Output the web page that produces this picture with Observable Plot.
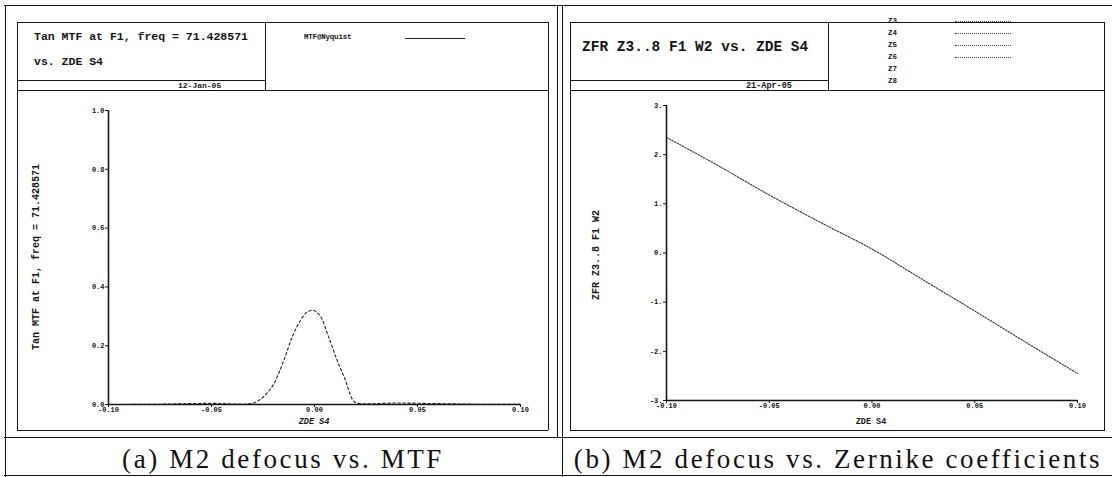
<!DOCTYPE html>
<html><head><meta charset="utf-8">
<script src="https://cdn.jsdelivr.net/npm/d3@7"></script>
<script src="https://cdn.jsdelivr.net/npm/@observablehq/plot@0.6"></script>
<style>
body{margin:0;background:#fff;}
#root{position:relative;width:1112px;height:477px;overflow:hidden;font-family:"Liberation Mono","DejaVu Sans Mono",monospace;font-weight:bold;color:#151515;background:#fff;}
.hl{position:absolute;height:0;border-top:1.6px solid #151515;}
.vl{position:absolute;width:0;border-left:1.6px solid #151515;}
.t{position:absolute;white-space:nowrap;line-height:1;}
.plot{position:absolute;}
.cap{position:absolute;white-space:nowrap;font-family:"Liberation Serif","DejaVu Serif",serif;font-weight:normal;font-size:27px;line-height:1;color:#111;letter-spacing:2.6px;transform:translateX(-50%);}
</style></head>
<body><div id="root"></div>
<script>
// ---------- data ----------
const xTicks = [-0.10, -0.05, 0.00, 0.05, 0.10];
const mtfTicks = [0.0, 0.2, 0.4, 0.6, 0.8, 1.0];
const zfrTicks = [-3, -2, -1, 0, 1, 2, 3];
const mtfX = [-0.100, -0.075, -0.050, -0.035, -0.030, -0.027, -0.0235, -0.0198, -0.0149, -0.0108, -0.0068, -0.0035, -0.0011, 0.0029, 0.0069, 0.0110, 0.0150, 0.0183, 0.0210, 0.0250, 0.040, 0.060, 0.080, 0.100];
const mtfY = [0.000, 0.001, 0.004, 0.001, 0.004, 0.014, 0.035, 0.070, 0.150, 0.230, 0.286, 0.315, 0.320, 0.300, 0.229, 0.150, 0.082, 0.019, 0.004, 0.002, 0.005, 0.003, 0.001, 0.001];
const zfrX = [-0.100, -0.075, -0.050, -0.025, 0.000, 0.025, 0.050, 0.075, 0.100];
const zfrY = [2.35, 1.78, 1.18, 0.62, 0.08, -0.55, -1.18, -1.82, -2.45];
const zLabels = ["Z3", "Z4", "Z5", "Z6", "Z7", "Z8"];
const leftTitle = ["Tan MTF at F1, freq = 71.428571", "vs. ZDE S4"];
const rightTitle = "ZFR Z3..8 F1 W2 vs. ZDE S4";
const leftDate = "12-Jan-05", rightDate = "21-Apr-05";
const leftLegend = "MTF@Nyquist";
const leftYLabel = "Tan MTF at F1, freq = 71.428571";
const rightYLabel = "ZFR Z3..8 F1 W2";
const xLabel = "ZDE S4";
const captions = ["(a) M2 defocus vs. MTF", "(b) M2 defocus vs. Zernike coefficients"];

// ---------- helpers ----------
const root = document.getElementById("root");
function hl(x, y, w, extra) { const d = document.createElement("div"); d.className = "hl"; d.style.left = x + "px"; d.style.top = y + "px"; d.style.width = w + "px"; if (extra) Object.assign(d.style, extra); root.appendChild(d); return d; }
function vl(x, y, h, extra) { const d = document.createElement("div"); d.className = "vl"; d.style.left = x + "px"; d.style.top = y + "px"; d.style.height = h + "px"; if (extra) Object.assign(d.style, extra); root.appendChild(d); return d; }
function txt(s, x, y, css) { const d = document.createElement("div"); d.className = "t"; d.textContent = s; d.style.left = x + "px"; d.style.top = y + "px"; if (css) Object.assign(d.style, css); root.appendChild(d); return d; }

// ---------- frame ----------
hl(4, 5, 1108);
vl(5, 5, 472);
vl(557, 5, 432);
vl(562, 5, 472);
hl(4, 437, 1108);
hl(4, 475, 1108);
// left inner box
hl(17, 22, 531); hl(17, 430, 531); vl(17, 22, 408); vl(548, 22, 408);
hl(17, 90, 531); vl(265, 22, 68); hl(17, 80, 248);
// right inner box
hl(570, 22, 535); hl(570, 430, 535); vl(570, 22, 408); vl(1104, 22, 408);
hl(570, 90, 535); vl(828, 22, 68); hl(570, 80, 258);

// ---------- header texts ----------
txt(leftTitle[0], 34, 31, {fontSize: "11.5px"});
txt(leftTitle[1], 34, 56, {fontSize: "11.5px"});
txt(leftDate, 178, 82, {fontSize: "8px"});
txt(leftLegend, 304, 34, {fontSize: "7.5px", letterSpacing: "-0.2px"});
hl(405, 38, 60, {borderTop: "1px solid #222"});

txt(rightTitle, 582, 40, {fontSize: "14.5px"});
txt(rightDate, 746, 82, {fontSize: "8.5px"});
zLabels.forEach((z, i) => {
  txt(z, 888, 18 + i * 12, {fontSize: "7.5px"});
  if (i < 4) hl(955, 21 + i * 12, 56, {borderTop: "1px dotted #555"});
});

// ---------- axis titles ----------
txt(leftYLabel, 37, 257, {fontSize: "10px", transform: "translate(-50%,-50%) rotate(-90deg)"});
txt(rightYLabel, 597, 255, {fontSize: "10px", transform: "translate(-50%,-50%) rotate(-90deg)"});
txt(xLabel, 314, 422, {fontSize: "8.5px", fontStyle: "italic", transform: "translate(-50%,-50%)"});
txt(xLabel, 871, 422, {fontSize: "8.5px", transform: "translate(-50%,-50%)"});

// ---------- captions ----------
const c1 = document.createElement("div"); c1.className = "cap"; c1.textContent = captions[0];
c1.style.left = "283px"; c1.style.top = "446px"; root.appendChild(c1);
const c2 = document.createElement("div"); c2.className = "cap"; c2.textContent = captions[1];
c2.style.left = "838px"; c2.style.top = "446px"; root.appendChild(c2);

// ---------- plots ----------
const fmtX = d => d.toFixed(2);
const plotStyle = {fontFamily: "Liberation Mono, monospace", fontSize: "7px", fontWeight: "bold", background: "transparent", color: "#151515"};

const mtfData = mtfX.map((x, i) => ({x, y: mtfY[i]}));
const left = Plot.plot({
  width: 531, height: 340,
  marginLeft: 91, marginRight: 28, marginTop: 20, marginBottom: 26,
  style: plotStyle,
  x: {domain: [-0.1, 0.1], axis: null},
  y: {domain: [0, 1], axis: null},
  marks: [
    Plot.axisY(mtfTicks, {tickSize: 3, tickPadding: 1, tickFormat: d => d.toFixed(1), label: null}),
    Plot.axisX(xTicks, {tickSize: 3, tickPadding: 0, tickFormat: fmtX, label: null}),
    Plot.ruleX([-0.1], {y1: 0, y2: 1, strokeWidth: 1.6}),
    Plot.ruleY([0], {x1: -0.1, x2: 0.1, strokeWidth: 1.6}),
    Plot.line(mtfData, {x: "x", y: "y", curve: "monotone-x", stroke: "#222", strokeWidth: 1.1, strokeDasharray: "2.5,2.5"})
  ]
});
left.classList.add("plot"); left.style.left = "17px"; left.style.top = "90px";
root.appendChild(left);

const zfrData = zfrX.map((x, i) => ({x, y: zfrY[i]}));
const right = Plot.plot({
  width: 534, height: 340,
  marginLeft: 96, marginRight: 27, marginTop: 15, marginBottom: 30,
  style: plotStyle,
  x: {domain: [-0.1, 0.1], axis: null},
  y: {domain: [-3, 3], axis: null},
  marks: [
    Plot.axisY(zfrTicks, {tickSize: 3, tickPadding: 1, tickFormat: d => String(d) + ".", label: null}),
    Plot.axisX(xTicks, {tickSize: 3, tickPadding: 0, tickFormat: fmtX, label: null}),
    Plot.ruleX([-0.1], {y1: -3, y2: 3, strokeWidth: 1.6}),
    Plot.ruleY([-3], {x1: -0.1, x2: 0.1, strokeWidth: 1.6}),
    Plot.line(zfrData, {x: "x", y: "y", curve: "monotone-x", stroke: "#333", strokeWidth: 1.1, strokeDasharray: "1.5,1.5"})
  ]
});
right.classList.add("plot"); right.style.left = "570px"; right.style.top = "90px";
root.appendChild(right);
</script>
</body></html>
